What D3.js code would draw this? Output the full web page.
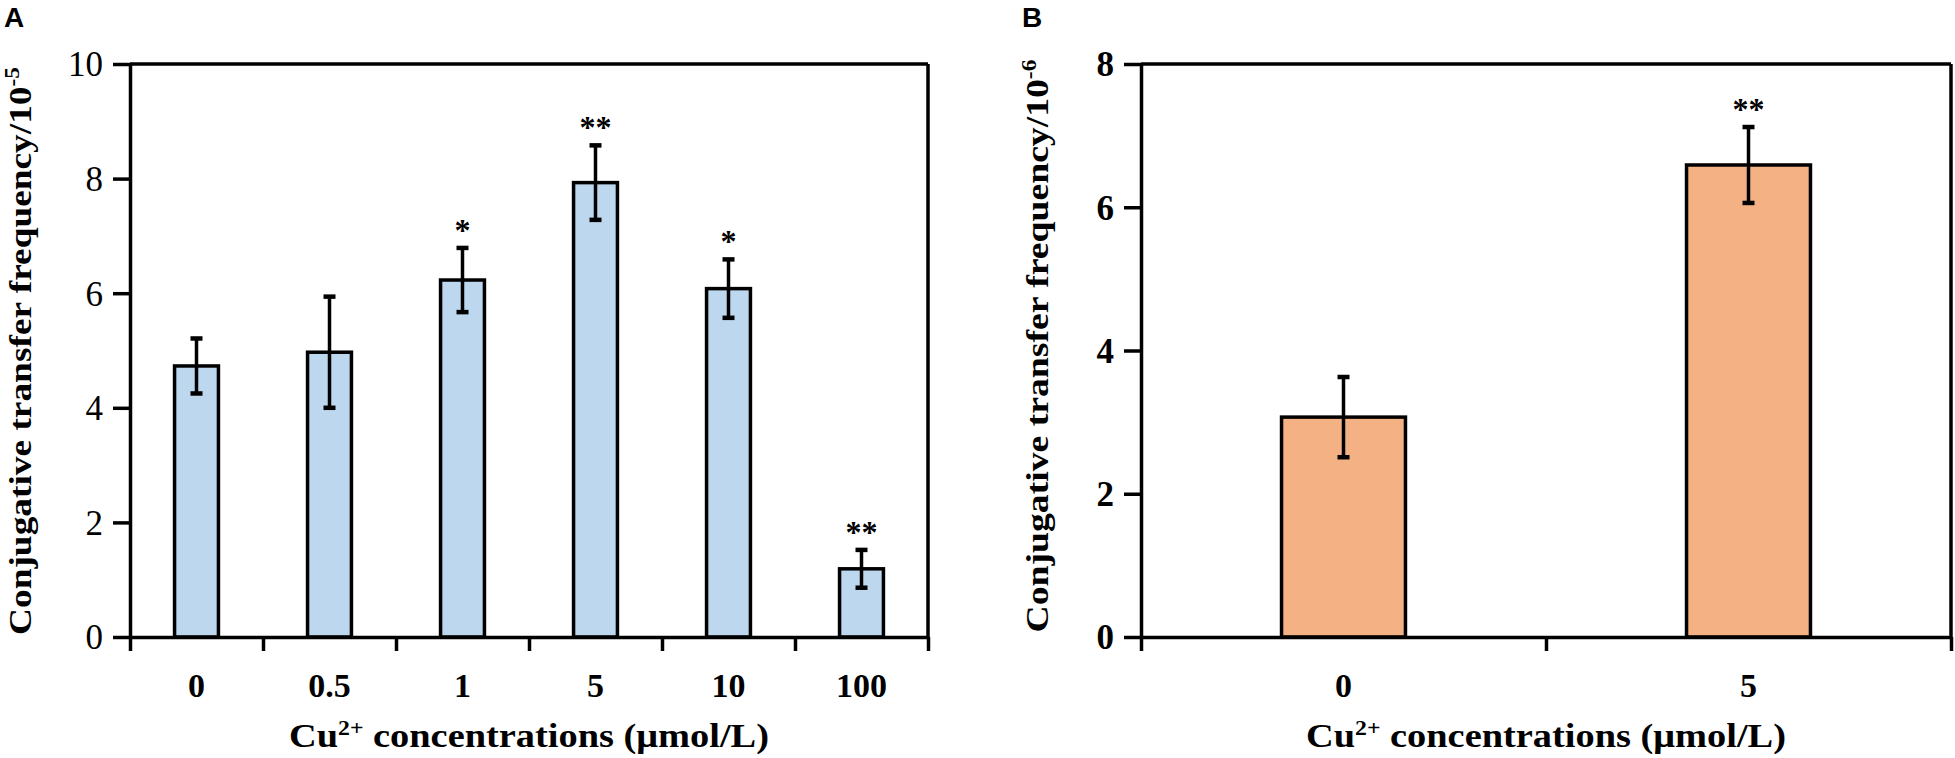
<!DOCTYPE html>
<html>
<head>
<meta charset="utf-8">
<script src="https://cdn.jsdelivr.net/npm/d3@7"></script>
<style>
  body { margin: 0; background: #fff; }
  svg text { font-family: "Liberation Serif", "Times New Roman", serif; fill: #000; }
  .panel-letter { font-family: "Liberation Sans", Arial, sans-serif !important; font-weight: bold; font-size: 28px; }
</style>
</head>
<body>
<div id="chart"></div>
<script>
// Panel A data
const catsA = ["0", "0.5", "1", "5", "10", "100"];
const meansA = [4.73, 4.97, 6.23, 7.93, 6.08, 1.19];
const errsA = [0.48, 0.97, 0.56, 0.65, 0.51, 0.33];
const starsA = ["", "", "*", "**", "*", "**"];
const ticksA = [0, 2, 4, 6, 8, 10];

// Panel B data
const catsB = ["0", "5"];
const meansB = [3.07, 6.59];
const errsB = [0.56, 0.53];
const starsB = ["", "**"];
const ticksB = [0, 2, 4, 6, 8];

const width = 1955, height = 758;
const svg = d3.select("#chart").append("svg")
    .attr("width", width)
    .attr("height", height);

const lw = 3.5;

function drawPanel(opt) {
    const g = svg.append("g");
    const x = d3.scaleBand()
        .domain(opt.cats)
        .range([opt.left, opt.right])
        .paddingInner(opt.pad)
        .paddingOuter(opt.pad / 2);
    const xb = d3.scaleLinear().domain([0, opt.cats.length]).range([opt.left, opt.right]);
    const y = d3.scaleLinear().domain([0, d3.max(opt.ticks)]).range([opt.bottom, opt.top]);

    // bars
    g.selectAll("rect.bar")
        .data(opt.means)
        .enter()
        .append("rect")
        .attr("class", "bar")
        .attr("x", (d, i) => x(opt.cats[i]))
        .attr("y", d => y(d))
        .attr("width", x.bandwidth())
        .attr("height", d => y(0) - y(d))
        .style("fill", opt.fill)
        .style("stroke", "#000")
        .style("stroke-width", lw);

    // error bars
    const eb = g.selectAll("g.err")
        .data(opt.means)
        .enter()
        .append("g")
        .attr("class", "err")
        .attr("transform", (d, i) => `translate(${x(opt.cats[i]) + x.bandwidth() / 2},0)`);
    eb.append("line")
        .attr("y1", (d, i) => y(d + opt.errs[i]))
        .attr("y2", (d, i) => y(d - opt.errs[i]))
        .style("stroke", "#000").style("stroke-width", lw);
    eb.append("line")
        .attr("x1", -6).attr("x2", 6)
        .attr("y1", (d, i) => y(d + opt.errs[i]))
        .attr("y2", (d, i) => y(d + opt.errs[i]))
        .style("stroke", "#000").style("stroke-width", 4.5);
    eb.append("line")
        .attr("x1", -6).attr("x2", 6)
        .attr("y1", (d, i) => y(d - opt.errs[i]))
        .attr("y2", (d, i) => y(d - opt.errs[i]))
        .style("stroke", "#000").style("stroke-width", 4.5);

    // significance stars
    eb.append("text")
        .attr("y", (d, i) => y(d + opt.errs[i]) - 22 + 15)
        .attr("text-anchor", "middle")
        .style("font-size", "32px")
        .style("font-weight", "bold")
        .text((d, i) => opt.stars[i]);

    // frame: top and right
    g.append("line")
        .attr("x1", opt.left).attr("x2", opt.right)
        .attr("y1", y(d3.max(opt.ticks))).attr("y2", y(d3.max(opt.ticks)))
        .style("stroke", "#000").style("stroke-width", lw);
    g.append("line")
        .attr("x1", opt.right).attr("x2", opt.right)
        .attr("y1", y(d3.max(opt.ticks))).attr("y2", y(0))
        .style("stroke", "#000").style("stroke-width", lw);

    // y axis
    const yAxis = g.append("g")
        .attr("transform", `translate(${opt.left},0)`)
        .call(d3.axisLeft(y).tickValues(opt.ticks).tickSize(17).tickPadding(10).tickSizeOuter(0));
    yAxis.selectAll("text")
        .style("font-size", "35px")
        .style("font-weight", opt.yBold ? "bold" : "normal")
        .attr("dy", "0.34em");

    // x axis: boundary ticks
    g.append("g")
        .attr("transform", `translate(0,${opt.bottom})`)
        .call(d3.axisBottom(xb).tickValues(d3.range(opt.cats.length + 1)).tickSize(14).tickFormat("").tickSizeOuter(0));
    // x axis: category labels
    const xAxis = g.append("g")
        .attr("transform", `translate(0,${opt.bottom})`)
        .call(d3.axisBottom(x).tickSize(0).tickPadding(36));
    xAxis.select(".domain").remove();
    xAxis.selectAll("text")
        .style("font-size", "34px")
        .style("font-weight", "bold");

    g.selectAll(".domain, .tick line")
        .style("stroke", "#000")
        .style("stroke-width", lw);

    // x title
    const xt = g.append("text")
        .attr("x", (opt.left + opt.right) / 2)
        .attr("y", 747)
        .attr("text-anchor", "middle")
        .attr("textLength", 480)
        .attr("lengthAdjust", "spacingAndGlyphs")
        .style("font-size", "34px")
        .style("font-weight", "bold");
    xt.append("tspan").text("Cu");
    xt.append("tspan").attr("dy", -12).style("font-size", "21px").text("2+");
    xt.append("tspan").attr("dy", 12).text(" concentrations (\u03bcmol/L)");

    // y title
    const yt = g.append("text")
        .attr("transform", `translate(${opt.yTitleX},${opt.yTitleY}) rotate(-90)`)
        .attr("text-anchor", "middle")
        .attr("textLength", opt.yTitleLen)
        .attr("lengthAdjust", "spacingAndGlyphs")
        .style("font-size", "32px")
        .style("font-weight", "bold");
    yt.append("tspan").text("Conjugative transfer frequency/10");
    yt.append("tspan").attr("dy", -12).style("font-size", "20px").text(opt.exp);

    // panel letter
    svg.append("text")
        .attr("class", "panel-letter")
        .attr("x", opt.letterX)
        .attr("y", 27)
        .text(opt.letter);
}

drawPanel({
    cats: catsA, means: meansA, errs: errsA, stars: starsA, ticks: ticksA,
    left: 130, right: 928, top: 64, bottom: 637, pad: 0.67,
    fill: "#bdd7ee", yBold: false,
    yTitleX: 31, yTitleY: 351, yTitleLen: 568, exp: "-5",
    letter: "A", letterX: 4
});

drawPanel({
    cats: catsB, means: meansB, errs: errsB, stars: starsB, ticks: ticksB,
    left: 1141, right: 1951, top: 64, bottom: 637, pad: 0.694,
    fill: "#f4b183", yBold: true,
    yTitleX: 1048, yTitleY: 346, yTitleLen: 573, exp: "-6",
    letter: "B", letterX: 1022
});
</script>
</body>
</html>
